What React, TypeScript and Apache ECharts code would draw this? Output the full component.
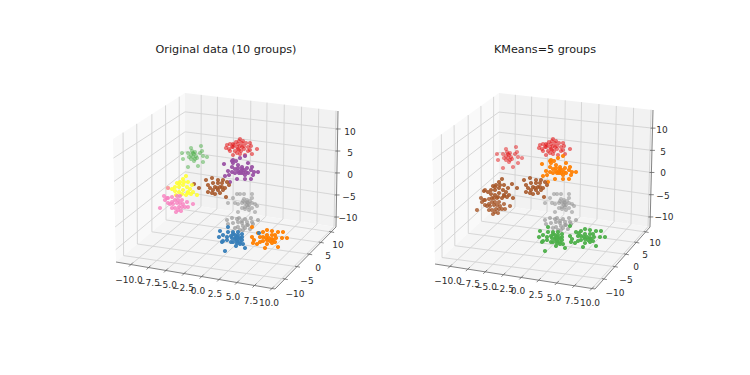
import React, { useEffect, useRef } from "react";
import * as echarts from "echarts";

type P = [number, number];

// Points, on the projected plane of the left 3D box (the depth cannot be read).
const green: P[] = [[182,153],[183,159],[191,148],[201,146],[202,151],[207,157],[188,153],[191,155],[193,153],[195,152],[193,157],[196,156],[191,159],[194,161],[197,158],[203,156],[203,162],[188,167],[198,166],[194,154],[192,151],[200,153],[189,157],[195,159]];
const red: P[] = [[227,145],[230,144],[233,144],[236,142],[239,141],[243,141],[250,143],[226,148],[229,149],[233,147],[237,147],[240,146],[244,146],[248,147],[251,146],[230,151],[235,151],[238,149],[241,151],[244,149],[248,151],[257,149],[233,155],[240,154],[245,155],[252,154],[238,144],[242,147],[237,153],[234,145],[246,143],[239,150],[232,147],[242,143],[250,150],[240,139]];
const purple: P[] = [[224,164],[232,161],[236,161],[240,158],[245,156],[248,163],[252,167],[228,171],[232,167],[233,163],[238,165],[242,167],[247,168],[251,170],[254,172],[258,172],[229,175],[232,172],[235,169],[238,168],[241,171],[244,170],[248,173],[253,175],[237,179],[245,179],[251,179],[235,173],[239,173],[243,173],[245,175],[238,171],[241,173],[246,172],[242,169],[233,160],[225,176],[230,182]];
const grayUpper: P[] = [[237,194],[240,194],[244,194],[252,194],[252,198],[244,199],[247,200],[233,198],[250,201],[235,203],[228,203],[238,204],[242,203],[245,203],[248,203],[252,203],[255,204],[245,207],[248,207],[257,206],[252,208],[245,209],[242,208],[249,210],[255,212],[238,212],[247,202],[243,201],[249,205],[247,205]];
const grayLower: P[] = [[227,220],[232,218],[237,219],[239,218],[245,219],[251,218],[258,220],[233,223],[238,222],[242,221],[247,222],[252,222],[238,227],[243,226],[248,225],[253,224],[235,228],[240,230],[245,228],[250,229],[242,223],[228,224],[247,225],[243,230]];
const brown: P[] = [[206,180],[212,178],[218,180],[223,180],[227,182],[229,185],[208,185],[213,183],[218,183],[222,183],[210,188],[215,187],[220,187],[225,188],[208,192],[213,190],[218,190],[223,190],[215,194],[220,193],[226,197],[217,188],[212,193],[222,187],[194,184],[199,188]];
const yellow: P[] = [[186,176],[183,179],[180,182],[177,183],[188,182],[192,185],[175,187],[179,187],[183,185],[187,187],[190,189],[193,192],[197,195],[175,191],[179,192],[183,190],[188,192],[191,194],[176,195],[182,194],[186,195],[172,189],[168,188],[179,184],[184,182],[188,193]];
const pink: P[] = [[168,188],[164,196],[165,200],[160,208],[172,197],[177,196],[180,196],[168,198],[172,202],[175,200],[178,200],[182,200],[170,204],[173,204],[177,203],[180,203],[183,204],[187,202],[188,207],[193,204],[175,208],[179,207],[182,207],[176,212],[181,211],[168,203],[167,198],[185,207],[172,208],[178,210]];
const orange: P[] = [[252,227],[252,237],[254,240],[253,243],[257,244],[258,233],[263,232],[267,230],[272,231],[278,232],[283,232],[260,237],[263,237],[267,235],[272,235],[275,235],[263,241],[267,240],[272,239],[276,238],[282,238],[287,238],[267,244],[272,243],[275,242],[265,248],[278,247],[269,238],[266,238],[273,240],[270,241],[260,242]];
const blue: P[] = [[228,227],[220,231],[219,237],[223,235],[228,232],[233,232],[238,232],[242,234],[227,237],[231,236],[235,235],[238,235],[223,241],[227,240],[232,238],[236,238],[240,238],[233,242],[237,241],[242,240],[243,244],[245,248],[236,246],[225,251],[222,242],[235,239],[238,239],[240,242],[233,234],[237,243],[231,242],[237,237],[242,237],[240,244],[259,233]];

const xTicks = ["−10.0", "−7.5", "−5.0", "−2.5", "0.0", "2.5", "5.0", "7.5", "10.0"];
const yTicks = ["−10", "−5", "0", "5", "10"];
const zTicks = ["−10", "−5", "0", "5", "10"];

const titleLeft = "Original data (10 groups)";
const titleRight = "KMeans=5 groups";

const C = { red: "#e41a1c", blue: "#377eb8", green: "#4daf4a", purple: "#984ea3", orange: "#ff7f00", yellow: "#ffff33", brown: "#a65628", pink: "#f781bf", gray: "#999999" };

// drawing order, back to front; [points, original colour, KMeans colour, opacity, shift into right box]
const groups: [P[], string, string, number, P][] = [
  [green, C.green, C.red, 0.5, [315, 1]],
  [red, C.red, C.red, 0.58, [313, 0]],
  [purple, C.purple, C.orange, 0.92, [318, 0]],
  [grayUpper, C.gray, C.gray, 0.62, [317, 0]],
  [grayLower, C.gray, C.gray, 0.7, [318, 0]],
  [brown, C.brown, C.brown, 0.88, [318, 0]],
  [yellow, C.yellow, C.brown, 0.88, [316, 3]],
  [pink, C.pink, C.brown, 0.8, [317, 2]],
  [orange, C.orange, C.green, 0.95, [318, -1]],
  [blue, C.blue, C.green, 0.95, [320, 0]],
];

type Box = { L: P; F: P; R: P; B: P; LT: P; BT: P; RT: P };
const boxLeft: Box = { L: [116, 262], F: [275, 289], R: [336, 227], B: [185, 204], LT: [113, 139], BT: [185, 93], RT: [338, 111] };
const boxRight: Box = { L: [435, 264], F: [595, 289], R: [650, 227], B: [499, 205], LT: [432, 141], BT: [499, 93], RT: [653, 110] };

const xFront = [0.094, 0.205, 0.314, 0.428, 0.539, 0.648, 0.761, 0.871, 0.981];
const xBack = [0.106, 0.212, 0.318, 0.43, 0.536, 0.649, 0.762, 0.874, 0.987];
const yFront = [0.16, 0.36, 0.56, 0.75, 0.92];
const yFloorBack = [0.11, 0.31, 0.52, 0.725, 0.915];
const yTop = [0.14, 0.33, 0.54, 0.73, 0.92];
const zRight = [0.086, 0.276, 0.466, 0.655, 0.845];
const zBack = [0.108, 0.29, 0.47, 0.65, 0.83];
const zLeft = [0.1, 0.285, 0.47, 0.655, 0.845];

const xLabelPos: Record<string, P[]> = {
  left: [[129,280],[149,283],[166,285],[183,288],[198,291],[215,294],[233,297],[251,301],[269,303]],
  right: [[448,281],[469,284],[486,287],[503,289],[518,291],[536,295],[554,298],[572,301],[590,303]],
};
const yLabelPos: Record<string, P[]> = {
  left: [[295,294],[307,281],[318,268],[328,256],[338,245]],
  right: [[615,293],[626,280],[636,267],[645,255],[655,243]],
};
const zLabelPos: Record<string, P[]> = {
  left: [[348,218],[349,197],[350,175],[350,153],[350,132]],
  right: [[664,217],[663,196],[663,173],[663,152],[662,130]],
};

const mix = (a: P, b: P, t: number): P => [a[0] + (b[0] - a[0]) * t, a[1] + (b[1] - a[1]) * t];

function boxSeries(b: Box) {
  const polys = [
    { pts: [b.L, b.B, b.BT, b.LT], fill: "#f9f9f9" },
    { pts: [b.B, b.R, b.RT, b.BT], fill: "#f2f2f2" },
    { pts: [b.L, b.F, b.R, b.B], fill: "#f5f5f5" },
  ];
  const grid: [P, P][] = [];
  xBack.forEach((t, i) => {
    const back = mix(b.B, b.R, t);
    grid.push([mix(b.L, b.F, xFront[i]), back]);
    grid.push([back, mix(b.BT, b.RT, t)]);
  });
  yFloorBack.forEach((t, i) => {
    const back = mix(b.L, b.B, t);
    grid.push([back, mix(b.F, b.R, yFront[i])]);
    grid.push([back, mix(b.LT, b.BT, yTop[i])]);
  });
  zBack.forEach((t, i) => {
    const back = mix(b.B, b.BT, t);
    grid.push([back, mix(b.R, b.RT, zRight[i])]);
    grid.push([back, mix(b.L, b.LT, zLeft[i])]);
  });
  const dark: [P, P][] = [[b.L, b.F], [b.F, b.R], [b.R, b.RT]];
  xFront.forEach((t) => {
    const p = mix(b.L, b.F, t);
    dark.push([[p[0] + 2, p[1] - 2], [p[0] - 2, p[1] + 2]]);
  });
  yFront.forEach((t) => {
    const p = mix(b.F, b.R, t);
    dark.push([[p[0] - 2, p[1] - 0.5], [p[0] + 3, p[1] + 0.5]]);
  });
  zRight.forEach((t) => {
    const p = mix(b.R, b.RT, t);
    dark.push([[p[0] - 2, p[1]], [p[0] + 3, p[1]]]);
  });
  return {
    type: "custom",
    silent: true,
    clip: false,
    data: [0],
    z: 1,
    renderItem: (_: any, api: any) => ({
      type: "group",
      children: [
        ...polys.map((p) => ({
          type: "polygon",
          shape: { points: p.pts.map((q) => api.coord(q)) },
          style: { fill: p.fill, stroke: "none" },
        })),
        ...grid.map(([u, v]) => {
          const a = api.coord(u), c = api.coord(v);
          return { type: "line", shape: { x1: a[0], y1: a[1], x2: c[0], y2: c[1] }, style: { stroke: "#d2d2d2", lineWidth: 0.9 } };
        }),
        ...dark.map(([u, v]) => {
          const a = api.coord(u), c = api.coord(v);
          return { type: "line", shape: { x1: a[0], y1: a[1], x2: c[0], y2: c[1] }, style: { stroke: "#666666", lineWidth: 0.8 } };
        }),
      ],
    }),
  };
}

function labelGraphics(texts: string[], pos: P[]) {
  return texts.map((t, i) => ({
    type: "text",
    x: pos[i][0],
    y: pos[i][1],
    z: 10,
    style: { text: t, fill: "#2b2b2b", font: '9px "DejaVu Sans"', textAlign: "center", textVerticalAlign: "middle" },
  }));
}

export default function App() {
  const ref = useRef<HTMLDivElement>(null);
  useEffect(() => {
    document.body.style.margin = "0";
    const chart = echarts.init(ref.current!, null, { renderer: "svg" });
    const dots = (data: P[], color: string, opacity: number) => ({
      type: "scatter",
      data,
      symbol: "circle",
      symbolSize: 4.2,
      z: 5,
      silent: true,
      clip: false,
      itemStyle: { color, opacity },
    });
    const titleStyle = { fontFamily: "DejaVu Sans", fontSize: 11.2, fontWeight: "normal", color: "#1a1a1a" };
    chart.setOption({
      animation: false,
      backgroundColor: "#ffffff",
      title: [
        { text: titleLeft, left: 221, top: 39, textAlign: "center", textStyle: titleStyle },
        { text: titleRight, left: 540, top: 39, textAlign: "center", textStyle: titleStyle },
      ],
      grid: { left: 0, right: 0, top: 0, bottom: 0 },
      xAxis: { type: "value", min: 0, max: 750, show: false },
      yAxis: { type: "value", min: 0, max: 375, inverse: true, show: false },
      series: [
        boxSeries(boxLeft),
        boxSeries(boxRight),
        ...groups.map(([pts, c, , o]) => dots(pts, c, o)),
        ...groups.map(([pts, , k, o, s]) => dots(pts.map((p) => [p[0] + s[0], p[1] + s[1]] as P), k, o)),
      ],
      graphic: [
        ...labelGraphics(xTicks, xLabelPos.left),
        ...labelGraphics(xTicks, xLabelPos.right),
        ...labelGraphics(yTicks, yLabelPos.left),
        ...labelGraphics(yTicks, yLabelPos.right),
        ...labelGraphics(zTicks, zLabelPos.left),
        ...labelGraphics(zTicks, zLabelPos.right),
      ],
    });
    return () => chart.dispose();
  }, []);
  return <div ref={ref} style={{ width: 750, height: 375 }} />;
}
